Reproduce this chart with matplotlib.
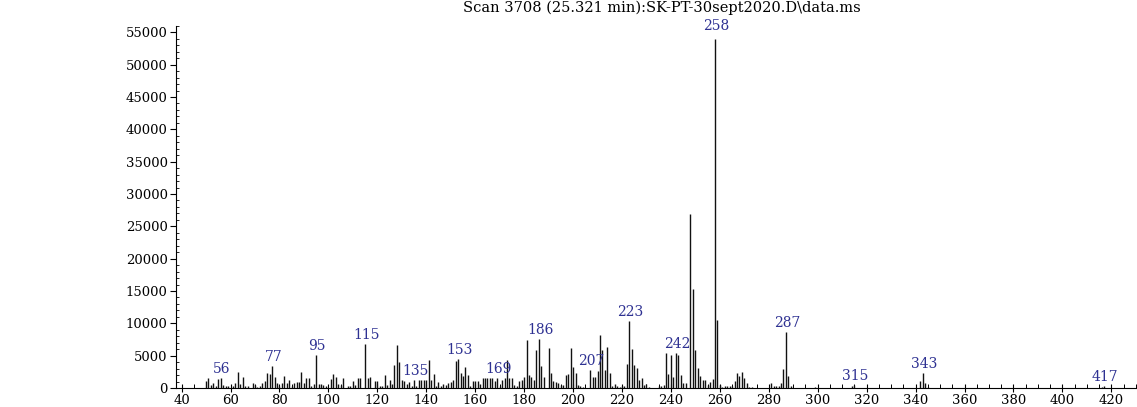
import matplotlib; matplotlib.use("Agg")
import matplotlib.pyplot as plt
from matplotlib.ticker import MultipleLocator

INK = "#111111"; BLUE = "#2e3192"
FONT = "DejaVu Serif"

TITLE = "Scan 3708 (25.321 min):SK-PT-30sept2020.D\\data.ms"

# m/z and abundance
mz = [50, 51, 52, 53, 54, 55, 56, 57, 58, 59, 61, 62, 63, 64, 65, 66, 67, 69, 70, 71,
      72, 73, 74, 75, 76, 77, 78, 79, 80, 81, 82, 83, 84, 85, 86, 87, 88, 89, 90, 91,
      92, 93, 94, 95, 96, 97, 98, 99, 101, 102, 103, 104, 105, 106, 108, 109, 110, 111, 112, 113,
      115, 116, 117, 119, 120, 121, 122, 123, 124, 125, 126, 127, 128, 129, 130, 131, 132, 133, 134, 135,
      136, 137, 138, 139, 140, 141, 142, 143, 144, 145, 146, 147, 148, 149, 150, 151, 152, 153, 154, 155,
      156, 157, 158, 159, 160, 161, 162, 163, 164, 165, 166, 167, 168, 169, 170, 171, 172, 173, 174, 175,
      176, 177, 178, 179, 180, 181, 182, 183, 184, 185, 186, 187, 188, 190, 191, 192, 193, 194, 195, 196,
      197, 198, 199, 200, 201, 202, 203, 204, 207, 208, 209, 210, 211, 212, 213, 214, 215, 216, 217, 218,
      219, 220, 221, 222, 223, 224, 225, 226, 227, 228, 229, 230, 231, 235, 236, 237, 238, 239, 240, 241,
      242, 243, 244, 245, 246, 248, 249, 250, 251, 252, 253, 254, 255, 256, 257, 258, 259, 260, 261, 262,
      263, 264, 265, 266, 267, 268, 269, 270, 271, 272, 273, 281, 282, 283, 284, 285, 286, 287, 288, 289,
      299, 314, 315, 342, 343, 344, 345, 416, 417]
abund = [1150, 1500, 400, 700, 350, 1350, 1600, 400, 300, 250, 250, 700, 2400, 600, 1700, 250, 250, 700, 500, 150,
         350, 800, 1150, 2350, 2100, 3350, 1750, 700, 300, 700, 1850, 800, 1200, 350, 850, 950, 900, 2400, 800, 1600,
         1600, 350, 650, 5100, 600, 600, 500, 300, 1400, 2100, 1750, 600, 500, 1600, 250, 300, 1100, 450, 1500, 1500,
         6850, 1500, 1750, 1050, 1050, 250, 300, 1950, 500, 1300, 600, 3600, 6700, 4000, 1300, 1100, 650, 900, 300, 1300,
         350, 1300, 1300, 1300, 1300, 4300, 1300, 2100, 350, 900, 250, 600, 450, 800, 900, 1300, 4250, 4450, 2250, 1800,
         3200, 1950, 350, 1150, 1050, 1050, 650, 1600, 1600, 1600, 1600, 1600, 1050, 1600, 350, 1300, 1600, 4300, 1600, 1600,
         450, 250, 1150, 1300, 1750, 7400, 2000, 1700, 1300, 5850, 7600, 3400, 1700, 6150, 2350, 1150, 900, 800, 450, 450,
         1950, 2200, 6150, 3200, 2250, 450, 350, 150, 2750, 1750, 1700, 2700, 8150, 5950, 2800, 6350, 2350, 350, 600, 250,
         150, 250, 350, 3700, 10400, 6050, 3600, 3150, 1300, 1500, 450, 600, 150, 350, 350, 500, 5400, 2100, 5150, 1700,
         5400, 5100, 1950, 700, 800, 26900, 15300, 5800, 3050, 1850, 1300, 1200, 400, 900, 1450, 54000, 10500, 500, 150, 350,
         250, 350, 350, 1150, 2350, 1800, 2550, 1600, 800, 150, 100, 800, 350, 250, 350, 800, 2900, 8650, 1900, 250,
         150, 300, 500, 1050, 2300, 750, 150, 150, 300]
labelled = [56, 77, 95, 115, 135, 153, 169, 186, 207, 223, 242, 258, 287, 315, 343, 417]

fig = plt.figure(figsize=(11.37, 4.07), dpi=100)
ax = fig.add_axes([176/1137, 1-388/407, (1135.8-176)/1137, 56000*0.006467/407])

ax.vlines(mz, 0, abund, colors=INK, lw=1.0)
lookup = dict(zip(mz, abund))
for m in labelled:
    off = 4 if m == 258 else 1.5
    ax.annotate(str(m), (m+0.5, lookup[m]), xytext=(0, off), textcoords="offset points",
                ha="center", va="bottom", color=BLUE, fontsize=10, family=FONT)

ax.set_xlim(37.72, 430); ax.set_ylim(0, 56000)
ax.set_xticks(range(40, 421, 20)); ax.xaxis.set_minor_locator(MultipleLocator(5))
ax.set_yticks(range(0, 55001, 5000)); ax.yaxis.set_minor_locator(MultipleLocator(1000))
ax.tick_params(axis="x", which="major", direction="inout", length=6, width=0.8, pad=1)
ax.tick_params(axis="x", which="minor", direction="in", length=3, width=0.7)
ax.tick_params(axis="y", which="major", direction="out", length=4, width=0.8, pad=2)
ax.tick_params(axis="y", which="minor", direction="in", length=2, width=0.6)
for lab in ax.get_xticklabels() + ax.get_yticklabels():
    lab.set_family(FONT); lab.set_fontsize(9.5)
for s in ["top", "right"]: ax.spines[s].set_visible(False)
for s in ["left", "bottom"]: ax.spines[s].set_linewidth(0.8)

fig.text(662/1137, 1-8/407, TITLE, ha="center", va="center", fontsize=10.5, family=FONT)
fig.savefig("out.png", dpi=100)
